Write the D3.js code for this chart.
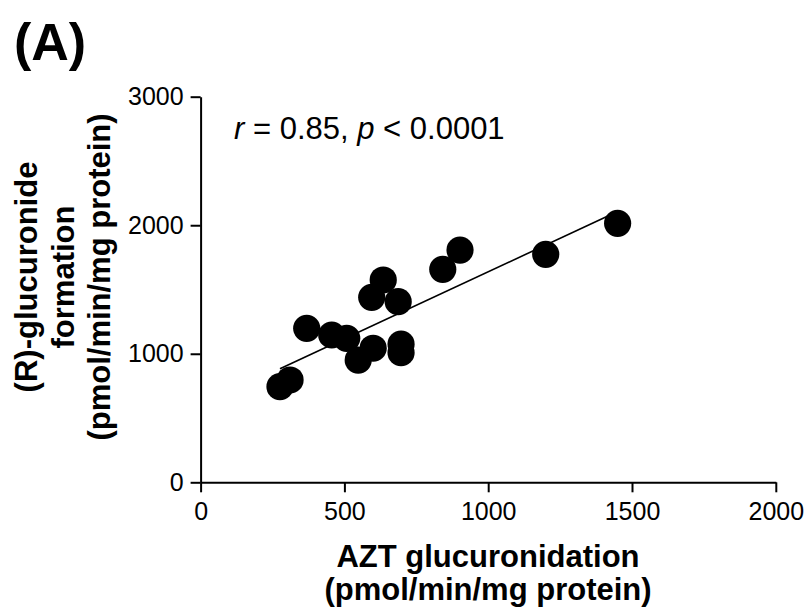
<!DOCTYPE html>
<html>
<head>
<meta charset="utf-8">
<script src="https://cdn.jsdelivr.net/npm/d3@7"></script>
<style>
  body { margin: 0; background: #fff; }
  svg { display: block; font-family: "Liberation Sans", Arial, sans-serif; }
</style>
</head>
<body>
<svg id="chart" width="812" height="615"></svg>
<script>
// values
const aztGluc = [276, 311, 369, 456, 508, 548, 600, 595, 635, 687, 697, 697, 842, 902, 1200, 1450];
const rGluc   = [744, 796, 1198, 1146, 1120, 951, 1043, 1439, 1574, 1405, 1076, 1008, 1657, 1807, 1774, 2015];
const xTicks = [0, 500, 1000, 1500, 2000];
const yTicks = [0, 1000, 2000, 3000];
const statText = ["r", " = 0.85, ", "p", " < 0.0001"];

const data = aztGluc.map((x, i) => ({x: x, y: rGluc[i]}));

const svg = d3.select("#chart");
const margin = {top: 96.7, left: 200.6, right: 36.2, bottom: 132.7};
const width = 812, height = 615;
const plotW = width - margin.left - margin.right;
const plotH = height - margin.top - margin.bottom;

const xScale = d3.scaleLinear().domain([0, 2000]).range([0, plotW]);
const yScale = d3.scaleLinear().domain([0, 3000]).range([plotH, 0]);

const plot = svg.append("g")
    .attr("transform", `translate(${margin.left}, ${margin.top})`);

/***** AXES *****/
const xAxis = plot.append("g")
    .attr("transform", `translate(0, ${plotH})`)
    .call(d3.axisBottom(xScale).tickValues(xTicks).tickSize(10).tickSizeOuter(0).tickPadding(10).tickFormat(d3.format("d")));

const yAxis = plot.append("g")
    .call(d3.axisLeft(yScale).tickValues(yTicks).tickSize(10).tickSizeOuter(0).tickPadding(7).tickFormat(d3.format("d")));

[xAxis, yAxis].forEach(ax => {
    ax.selectAll("path, line").attr("stroke", "#000").attr("stroke-width", 2);
    ax.selectAll("text")
        .attr("fill", "#000")
        .style("font-family", "'Liberation Sans', Arial, sans-serif")
        .style("font-size", "25px");
});

/***** REGRESSION LINE *****/
const mx = d3.mean(data, d => d.x), my = d3.mean(data, d => d.y);
const slope = d3.sum(data, d => (d.x - mx) * (d.y - my)) / d3.sum(data, d => (d.x - mx) ** 2);
const icpt = my - slope * mx;
const xExt = d3.extent(data, d => d.x);

plot.append("line")
    .attr("x1", xScale(xExt[0])).attr("y1", yScale(icpt + slope * xExt[0]))
    .attr("x2", xScale(xExt[1])).attr("y2", yScale(icpt + slope * xExt[1]))
    .attr("stroke", "#000")
    .attr("stroke-width", 1.6);

/***** POINTS *****/
plot.selectAll(".dot")
    .data(data)
    .join("circle")
    .attr("class", "dot")
    .attr("cx", d => xScale(d.x))
    .attr("cy", d => yScale(d.y))
    .attr("r", 13.6)
    .attr("fill", "#000");

/***** TEXT *****/
const stat = svg.append("text")
    .attr("x", 234)
    .attr("y", 138.5)
    .style("font-size", "31px");
stat.selectAll("tspan")
    .data(statText)
    .join("tspan")
    .style("font-style", (d, i) => i % 2 === 0 ? "italic" : "normal")
    .attr("xml:space", "preserve")
    .text(d => d);

svg.append("text")
    .attr("x", 14)
    .attr("y", 60)
    .style("font-size", "52px")
    .style("font-weight", "bold")
    .text("(A)");

const xTitle = svg.append("text")
    .attr("text-anchor", "middle")
    .style("font-size", "31px")
    .style("font-weight", "bold");
xTitle.selectAll("tspan")
    .data(["AZT glucuronidation", "(pmol/min/mg protein)"])
    .join("tspan")
    .attr("x", 488)
    .attr("y", (d, i) => 567 + i * 33)
    .text(d => d);

const yTitle = svg.append("g")
    .attr("transform", "translate(0, 277) rotate(-90)");
yTitle.selectAll("text")
    .data(["(R)-glucuronide", "formation", "(pmol/min/mg protein)"])
    .join("text")
    .attr("text-anchor", "middle")
    .attr("x", 0)
    .attr("y", (d, i) => 37 + i * 36.5)
    .style("font-size", "31px")
    .style("font-weight", "bold")
    .text(d => d);
</script>
</body>
</html>
